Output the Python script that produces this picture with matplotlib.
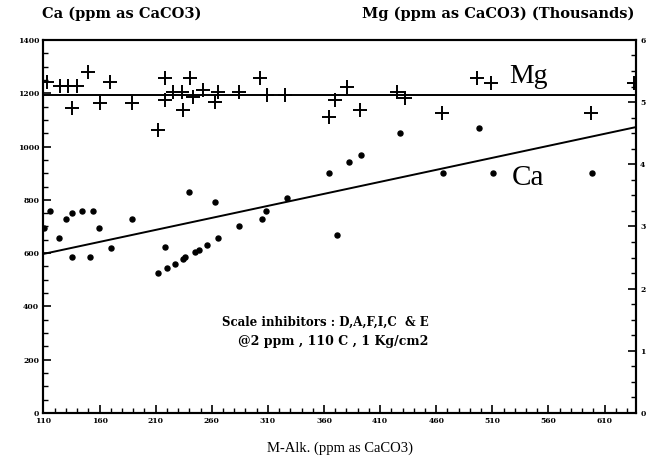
import numpy as np
import matplotlib
matplotlib.use("Agg")
import matplotlib.pyplot as plt
from matplotlib.ticker import MultipleLocator

# === Data
ca_alk = [110.4, 115.8, 123.5, 129.8, 135.1, 144.5, 154.1, 159.7, 135.1, 151.7,
          169.8, 188.8, 212.2, 218.5, 219.7, 227.1, 234.0, 236.3, 239.9, 244.9,
          248.5, 255.9, 263.0, 265.6, 284.1, 304.3, 308.1, 326.8, 364.0, 371.7,
          382.2, 392.5, 427.3, 465.9, 498.5, 510.9, 598.9]
ca_ppm = [694, 758, 658, 727, 749, 758, 758, 693, 586, 586,
          620, 727, 524, 622, 543, 559, 578, 586, 828, 603,
          610, 629, 792, 658, 701, 727, 758, 807, 899, 668,
          942, 968, 1052, 899, 1068, 899, 899]

mg_alk = [112.8, 124.7, 131.8, 139.8, 149.9, 135.1, 169.2, 160.3, 188.5, 218.2,
          218.2, 212.2, 225.6, 233.0, 240.5, 243.4, 234.5, 252.3, 265.6, 262.6,
          283.9, 303.3, 309.2, 325.5, 364.0, 370.0, 380.4, 392.2, 424.9, 432.2,
          464.9, 496.1, 508.8, 597.8, 636.0]
mg_thousands = [5.33, 5.26, 5.26, 5.26, 5.48, 4.91, 5.32, 4.98, 4.98, 5.38,
                5.03, 4.55, 5.17, 5.17, 5.38, 5.09, 4.88, 5.19, 5.17, 5.00,
                5.17, 5.38, 5.11, 5.11, 4.76, 5.03, 5.25, 4.88, 5.17, 5.06,
                4.83, 5.38, 5.31, 4.83, 5.30]

# trend lines as drawn on the chart
ca_trend = [597, 0.9015]   # value at 110, slope per ppm
mg_trend = 5.12            # flat, in thousands

x_ticks = [110, 160, 210, 260, 310, 360, 410, 460, 510, 560, 610]
x_lim = (110, 638)

fig = plt.figure(figsize=(6.47, 4.70), dpi=100)
ax = fig.add_axes([0.0672, 0.1213, 0.9158, 0.7937])
ax2 = ax.twinx()

xs = np.array(x_lim)
ax.plot(ca_alk, ca_ppm, "o", color="black", ms=3.6, zorder=3)
ax.plot(xs, ca_trend[0] + ca_trend[1] * (xs - 110), color="black", lw=1.4)
ax2.plot(mg_alk, mg_thousands, "+", color="black", ms=10.5, mew=1.4)
ax2.plot(xs, [mg_trend, mg_trend], color="black", lw=1.4)

ax.set_xlim(*x_lim)
ax.set_ylim(0, 1400)
ax2.set_ylim(0, 6)
ax.set_xticks(x_ticks)
ax.xaxis.set_minor_locator(MultipleLocator(10))
ax.yaxis.set_major_locator(MultipleLocator(200))
ax.yaxis.set_minor_locator(MultipleLocator(50))
ax2.yaxis.set_major_locator(MultipleLocator(1))
ax2.yaxis.set_minor_locator(MultipleLocator(0.25))

for a in (ax, ax2):
    a.tick_params(which="major", direction="in", length=6, width=1.2, pad=3)
    a.tick_params(which="minor", direction="in", length=3.5, width=1.0)
    for s in a.spines.values():
        s.set_linewidth(1.5)
ax.tick_params(axis="x", which="both", top=False)
for lbl in ax.get_xticklabels() + ax.get_yticklabels() + ax2.get_yticklabels():
    lbl.set_fontsize(5.5)
    lbl.set_fontweight("bold")
    lbl.set_family("DejaVu Serif")

fig.text(0.065, 0.971, "Ca (ppm as CaCO3)", fontsize=10.5, fontweight="bold",
         family="DejaVu Serif", va="center")
fig.text(0.98, 0.971, "Mg (ppm as CaCO3) (Thousands)", fontsize=10.5,
         fontweight="bold", family="DejaVu Serif", va="center", ha="right")
ax.set_xlabel("M-Alk. (ppm as CaCO3)", fontsize=10.5, family="Liberation Serif",
              labelpad=12)

ax.text(361, 339, "Scale inhibitors : D,A,F,I,C  & E", fontsize=8.5,
        fontweight="bold", family="DejaVu Serif", ha="center", va="center")
ax.text(368, 267, "@2 ppm , 110 C , 1 Kg/cm2", fontsize=9,
        fontweight="bold", family="DejaVu Serif", ha="center", va="center")
ax.text(525, 1238, "Mg", fontsize=20, family="Liberation Serif")
ax.text(527, 855, "Ca", fontsize=21, family="Liberation Serif")

fig.savefig("out.png", dpi=100)
